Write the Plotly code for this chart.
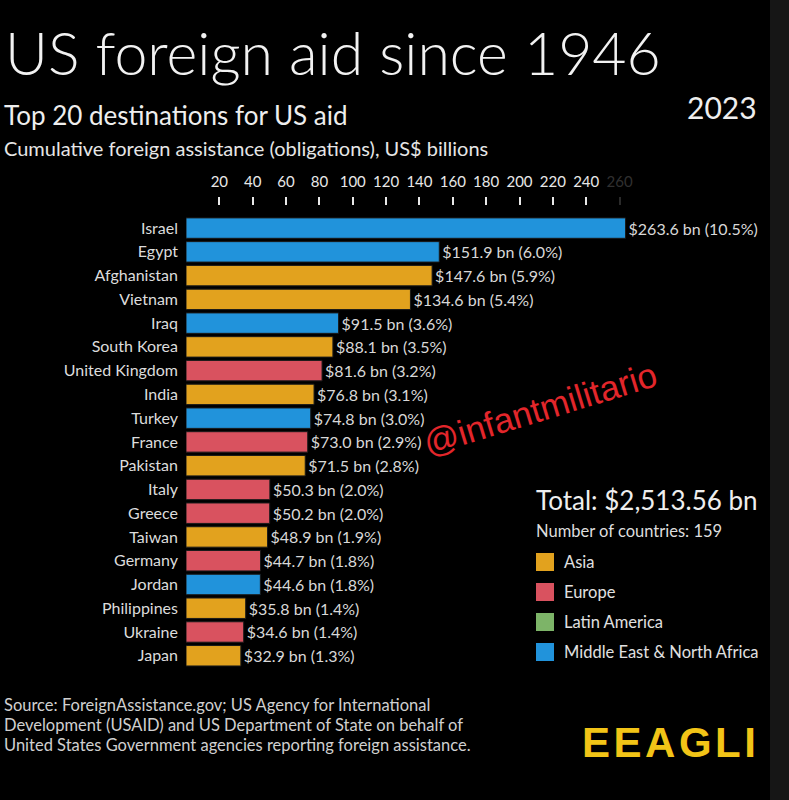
import plotly.graph_objects as go

countries = ["Israel", "Egypt", "Afghanistan", "Vietnam", "Iraq", "South Korea",
             "United Kingdom", "India", "Turkey", "France", "Pakistan", "Italy",
             "Greece", "Taiwan", "Germany", "Jordan", "Philippines", "Ukraine", "Japan"]
values = [263.6, 151.9, 147.6, 134.6, 91.5, 88.1, 81.6, 76.8, 74.8, 73.0, 71.5,
          50.3, 50.2, 48.9, 44.7, 44.6, 35.8, 34.6, 32.9]
shares = [10.5, 6.0, 5.9, 5.4, 3.6, 3.5, 3.2, 3.1, 3.0, 2.9, 2.8, 2.0, 2.0, 1.9,
          1.8, 1.8, 1.4, 1.4, 1.3]
regions = ["Middle East & North Africa", "Middle East & North Africa", "Asia", "Asia",
           "Middle East & North Africa", "Asia", "Europe", "Asia",
           "Middle East & North Africa", "Europe", "Asia", "Europe", "Europe", "Asia",
           "Europe", "Middle East & North Africa", "Asia", "Europe", "Asia"]
legend_regions = ["Asia", "Europe", "Latin America", "Middle East & North Africa"]
region_colors = {"Asia": "#E2A21E", "Europe": "#D9525F",
                 "Latin America": "#7DB468", "Middle East & North Africa": "#2193DB"}
x_ticks = [20, 40, 60, 80, 100, 120, 140, 160, 180, 200, 220, 240]
faded_tick = [260]
source_lines = ["Source: ForeignAssistance.gov; US Agency for International",
                "Development (USAID) and US Department of State on behalf of",
                "United States Government agencies reporting foreign assistance."]

W, H = 789, 800
L, R, T, B = 186, 13, 206, 130
PW, PH = W - L - R, H - T - B
FONT = "Lato"


def px(x):
    return (x - L) / PW


def py(y):
    return (H - B - y) / PH


labels = [f"${v:.1f} bn ({s:.1f}%)" for v, s in zip(values, shares)]
colors = [region_colors[r] for r in regions]

fig = go.Figure()
fig.add_trace(go.Bar(
    x=values, y=countries, orientation="h",
    marker=dict(color=colors, line=dict(color="#1a1a1a", width=1)),
    text=labels, textposition="outside", cliponaxis=False,
    textfont=dict(family=FONT, size=16, color="#d8d8d8"),
    showlegend=False, hoverinfo="skip",
))

fig.update_layout(
    width=W, height=H,
    margin=dict(l=L, r=R, t=T, b=B),
    paper_bgcolor="#000000", plot_bgcolor="#000000",
    bargap=0.14,
    xaxis=dict(side="top", range=[0, PW / (33.35 / 20)], tickvals=x_ticks,
               ticks="outside", ticklen=8, tickwidth=2, tickcolor="#e8e8e8",
               tickfont=dict(family=FONT, size=15, color="#e8e8e8"),
               ticklabelstandoff=4, showgrid=False, zeroline=False, showline=False),
    xaxis2=dict(side="top", matches="x", overlaying="x", tickvals=faded_tick,
                ticks="outside", ticklen=8, tickwidth=2, tickcolor="#2a2a2a",
                tickfont=dict(family=FONT, size=15, color="#303030"),
                ticklabelstandoff=4, showgrid=False, zeroline=False, showline=False),
    yaxis=dict(categoryorder="array", categoryarray=countries,
               range=[18.6, -0.93], showgrid=False, zeroline=False, showline=False,
               ticks="", ticklabelstandoff=7,
               tickfont=dict(family=FONT, size=16, color="#dcdcdc")),
)
fig.add_trace(go.Scatter(x=[None], y=[None], xaxis="x2", showlegend=False))

ann = []
ann.append(dict(text="US foreign aid since 1946", x=px(3), y=py(52), xanchor="left",
                yanchor="middle", font=dict(family=FONT, size=59, color="#f2f2f2", weight=300)))
ann.append(dict(text="Top 20 destinations for US aid", x=px(2), y=py(115), xanchor="left",
                yanchor="middle", font=dict(family=FONT, size=26, color="#eeeeee")))
ann.append(dict(text="2023", x=px(759), y=py(107), xanchor="right",
                yanchor="middle", font=dict(family=FONT, size=30, color="#eeeeee")))
ann.append(dict(text="Cumulative foreign assistance (obligations), US$ billions", x=px(2),
                y=py(148), xanchor="left", yanchor="middle",
                font=dict(family=FONT, size=20, color="#e6e6e6")))
ann.append(dict(text="Total: $2,513.56 bn", x=px(534), y=py(500), xanchor="left",
                yanchor="middle", font=dict(family=FONT, size=26, color="#eeeeee")))
ann.append(dict(text="Number of countries: 159", x=px(534), y=py(531), xanchor="left",
                yanchor="middle", font=dict(family=FONT, size=16.5, color="#dddddd")))
shapes = []
for i, reg in enumerate(legend_regions):
    yc = 562 + i * 30
    shapes.append(dict(type="rect", xref="paper", yref="paper", x0=px(536), x1=px(554),
                       y0=py(yc - 9), y1=py(yc + 9), fillcolor=region_colors[reg],
                       line=dict(width=0)))
    ann.append(dict(text=reg, x=px(562), y=py(yc), xanchor="left", yanchor="middle",
                    font=dict(family=FONT, size=16.5, color="#e0e0e0")))
for i, line in enumerate(source_lines):
    ann.append(dict(text=line, x=px(2), y=py(705 + i * 20), xanchor="left",
                    yanchor="middle", font=dict(family=FONT, size=16.5, color="#d0d0d0")))
ann.append(dict(text="E\u200aE\u200aA\u200aG\u200aL\u200aI", x=px(758), y=py(742),
                xanchor="right", yanchor="middle",
                font=dict(family="Liberation Sans Narrow, Liberation Sans", size=42,
                          color="#F2C417", weight="bold")))
ann.append(dict(text="@infantmilitario", x=px(540), y=py(408), xanchor="center",
                yanchor="middle", textangle=-17,
                font=dict(family="Liberation Sans", size=35, color="#E3262B")))
shapes.append(dict(type="rect", xref="paper", yref="paper", x0=px(770), x1=px(789),
                   y0=py(800), y1=py(0), fillcolor="#161616", line=dict(width=0),
                   layer="below"))
for a in ann:
    a.update(xref="paper", yref="paper", showarrow=False)
fig.update_layout(annotations=ann, shapes=shapes)

fig.write_html("out.html", config={"displayModeBar": False},
               post_script="document.body.style.margin='0';")
